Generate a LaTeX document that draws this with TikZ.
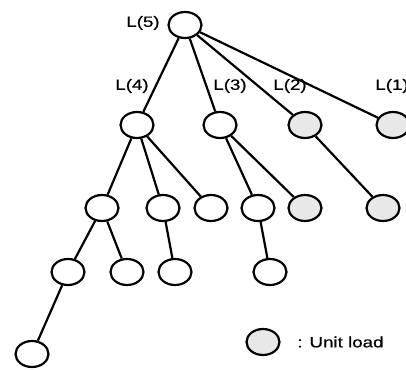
\documentclass[tikz,border=0pt]{standalone}
\usepackage{fontspec}
\setmainfont{Liberation Sans}
\usetikzlibrary{shapes.geometric}

\begin{document}
\begin{tikzpicture}[x=1pt, y=-1pt, line width=2.2pt,
    load/.style={ellipse, draw, fill=white, minimum width=33pt, minimum height=26pt, inner sep=0pt},
    unit/.style={load, fill=black!9},
    lvl/.style={font=\fontsize{15}{17}\selectfont\addfontfeature{FakeBold=0.5}, xscale=1.25, transform shape, inner sep=0pt}]
    \clip (0,0) rectangle (406,369);
    % loads
    \node[load] (l5) at (185,25) {};
    \node[load] (l4) at (137,125) {};
    \node[load] (l3) at (220,125) {};
    \node[unit] (l2) at (305,125) {};
    \node[unit] (l1) at (393,125) {};
    \node[load] (a) at (102,208) {};
    \node[load] (b) at (163,208) {};
    \node[load] (c) at (211,208) {};
    \node[load] (d) at (258,208) {};
    \node[unit] (e) at (305,208) {};
    \node[unit] (f) at (383,208) {};
    \node[load] (g) at (68,272) {};
    \node[load] (h) at (127,272) {};
    \node[load] (i) at (175,272) {};
    \node[load] (j) at (270,272) {};
    \node[load] (k) at (32,354) {};
    % level labels
    \node[lvl] (t5) at (143,23) {L(5)};
    \node[lvl] (t4) at (132,86) {L(4)};
    \node[lvl] (t3) at (230,86) {L(3)};
    \node[lvl] (t2) at (290,86) {L(2)};
    \node[lvl] (t1) at (392,86) {L(1)};
    % tree
    \foreach \p/\c in {l5/l4, l5/l3, l5/l2, l5/l1, l4/a, l4/b, l4/c, l3/d, l3/e, l2/f,
                       a/g, a/h, b/i, d/j, g/k} {
        \draw (\p) -- (\c);
    }
    % key
    \node[unit] (key) at (263,342) {};
    \node[lvl, anchor=west] (keytext) at (296,342) {: Unit load};
\end{tikzpicture}
\end{document}
